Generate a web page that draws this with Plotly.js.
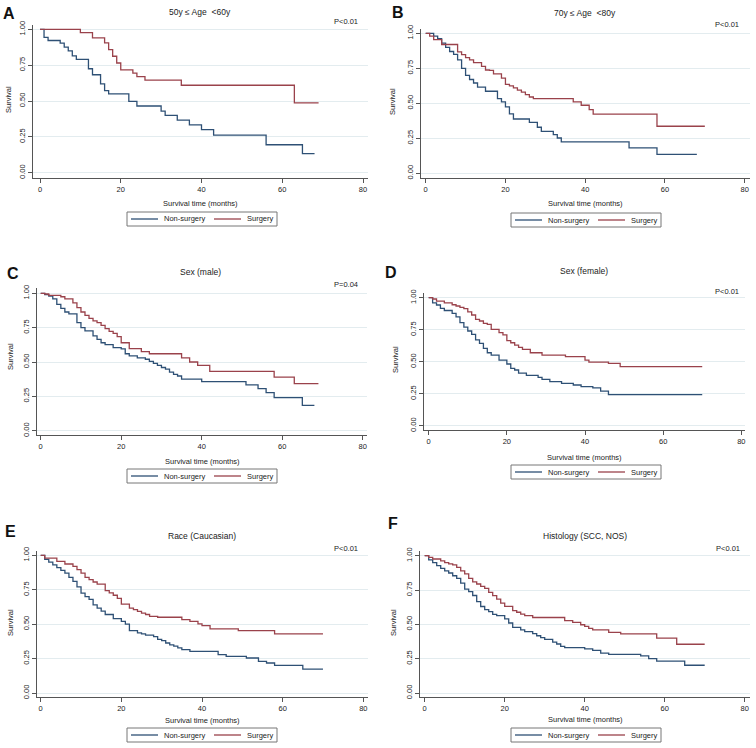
<!DOCTYPE html>
<html>
<head>
<meta charset="utf-8">
<script src="https://cdn.plot.ly/plotly-3.0.1.min.js"></script>
<style>html,body{margin:0;padding:0;background:#fff;}#chart{width:756px;height:748px;}</style>
</head>
<body>
<div id="chart"></div>
<script>
// ---------- DATA ----------
const panelLetters = ['A','B','C','D','E','F'];
const panelTitles = ['50y \u2264 Age  <60y','70y \u2264 Age  <80y','Sex (male)','Sex (female)','Race (Caucasian)','Histology (SCC, NOS)'];
const pValues = ['P<0.01','P<0.01','P=0.04','P<0.01','P<0.01','P<0.01'];
const seriesNames = ['Non-surgery','Surgery'];
const xTickVals = [0,20,40,60,80];
const yTickVals = [0,0.25,0.5,0.75,1];
const yTickText = ['0.00','0.25','0.50','0.75','1.00'];
const xTitle = 'Survival time (months)';
const yTitle = 'Survival';

// A: 50y <= Age < 60y
const aNonT = [0,1,2,5,6,7,8,9,12,13,15,16,17,22,24,30,31,34,37,40,43,56,65,68];
const aNonS = [1,0.943,0.922,0.903,0.876,0.85,0.815,0.79,0.725,0.683,0.62,0.572,0.55,0.497,0.465,0.43,0.40,0.366,0.333,0.30,0.262,0.195,0.133,0.133];
const aSurT = [0,10,13,16,17,18,19,20,23,24,26,35,63,69];
const aSurS = [1,0.977,0.94,0.905,0.858,0.812,0.765,0.717,0.695,0.67,0.645,0.61,0.487,0.487];

// B: 70y <= Age < 80y
const bNonT = [0,2,3,4,5,6,7,8,9,10,11,12,13,15,18,19,20,21,22,26,28,29,32,33,34,51,58,68];
const bNonS = [1,0.98,0.962,0.93,0.9,0.87,0.85,0.81,0.75,0.70,0.67,0.645,0.615,0.586,0.533,0.51,0.474,0.424,0.388,0.364,0.329,0.30,0.276,0.252,0.224,0.181,0.135,0.135];
const bSurT = [0,1,2,4,8,9,10,11,12,14,15,16,17,19,20,21,22,23,24,25,26,27,37,39,41,42,58,70];
const bSurS = [1,0.98,0.955,0.92,0.868,0.848,0.826,0.81,0.79,0.764,0.738,0.735,0.71,0.68,0.635,0.625,0.61,0.594,0.58,0.562,0.545,0.533,0.51,0.486,0.455,0.422,0.336,0.336];

// C: Sex (male)
const cNonT = [0,1,2,3,4,5,6,7,9,10,11,13,14,15,16,18,20,21,22,24,26,27,28,29,30,31,32,33,34,35,40,51,54,56,58,65,68];
const cNonS = [1,0.99,0.98,0.96,0.92,0.89,0.864,0.85,0.786,0.75,0.726,0.69,0.665,0.64,0.626,0.604,0.595,0.56,0.544,0.53,0.52,0.505,0.49,0.476,0.46,0.448,0.427,0.41,0.398,0.376,0.357,0.333,0.306,0.277,0.24,0.184,0.184];
const cSurT = [0,1,2,5,6,8,9,10,11,12,13,14,15,16,17,18,19,20,22,25,27,35,37,39,42,58,63,69];
const cSurS = [1,0.995,0.985,0.975,0.96,0.93,0.896,0.864,0.84,0.818,0.80,0.786,0.767,0.743,0.723,0.709,0.684,0.64,0.597,0.575,0.56,0.53,0.50,0.476,0.432,0.39,0.342,0.342];

// D: Sex (female)
const dNonT = [0,1,2,3,4,6,7,8,9,10,11,12,13,14,15,16,18,20,21,22,23,25,28,29,31,34,37,39,42,44,46,70];
const dNonS = [1,0.96,0.943,0.917,0.9,0.878,0.85,0.805,0.77,0.74,0.713,0.67,0.643,0.604,0.57,0.552,0.513,0.482,0.448,0.435,0.41,0.393,0.378,0.362,0.344,0.33,0.318,0.305,0.295,0.27,0.243,0.243];
const dSurT = [0,1,2,4,6,7,8,9,10,11,12,13,14,15,16,18,19,20,21,22,23,24,26,29,35,40,41,46,49,70];
const dSurS = [1,0.99,0.974,0.96,0.945,0.935,0.925,0.915,0.89,0.865,0.83,0.818,0.80,0.792,0.753,0.727,0.71,0.664,0.648,0.63,0.612,0.596,0.57,0.552,0.54,0.513,0.497,0.487,0.462,0.462];

// E: Race (Caucasian)
const eNonT = [0,1,2,3,4,5,6,7,8,9,10,11,12,13,14,15,16,18,20,21,22,24,25,26,28,29,30,31,32,33,34,35,37,44,46,51,54,56,58,65,70];
const eNonS = [1,0.97,0.95,0.93,0.91,0.89,0.87,0.84,0.81,0.77,0.726,0.70,0.68,0.64,0.617,0.594,0.57,0.54,0.52,0.50,0.453,0.436,0.43,0.42,0.41,0.39,0.38,0.363,0.35,0.34,0.327,0.315,0.303,0.278,0.266,0.254,0.23,0.218,0.20,0.174,0.174];
const eSurT = [0,1,4,6,8,9,10,11,12,13,14,16,17,18,19,20,22,23,24,25,26,27,29,35,37,39,40,42,49,58,70];
const eSurS = [1,0.98,0.956,0.937,0.92,0.896,0.87,0.84,0.823,0.806,0.79,0.743,0.727,0.71,0.687,0.646,0.617,0.605,0.593,0.58,0.57,0.557,0.55,0.533,0.52,0.502,0.49,0.465,0.453,0.429,0.429];

// F: Histology (SCC, NOS)
const fNonT = [0,1,2,3,4,5,6,7,8,9,10,11,12,13,14,15,16,17,18,20,21,22,24,25,27,28,29,30,32,33,34,35,40,42,44,46,54,56,58,65,70];
const fNonS = [1,0.97,0.95,0.927,0.908,0.89,0.874,0.854,0.835,0.80,0.757,0.738,0.71,0.665,0.63,0.607,0.592,0.573,0.563,0.54,0.51,0.478,0.46,0.447,0.432,0.417,0.403,0.39,0.37,0.357,0.34,0.33,0.322,0.31,0.29,0.282,0.27,0.25,0.232,0.202,0.202];
const fSurT = [0,1,2,4,5,6,7,8,9,10,11,12,13,14,15,16,17,18,19,20,22,23,24,25,27,35,37,39,40,41,42,46,49,58,63,70];
const fSurS = [1,0.988,0.976,0.963,0.95,0.94,0.933,0.915,0.89,0.867,0.835,0.81,0.794,0.777,0.762,0.733,0.709,0.684,0.655,0.631,0.60,0.588,0.575,0.563,0.55,0.527,0.515,0.497,0.485,0.47,0.46,0.442,0.43,0.40,0.355,0.355];

const nonTimes = [aNonT,bNonT,cNonT,dNonT,eNonT,fNonT];
const nonSurv  = [aNonS,bNonS,cNonS,dNonS,eNonS,fNonS];
const surTimes = [aSurT,bSurT,cSurT,dSurT,eSurT,fSurT];
const surSurv  = [aSurS,bSurS,cSurS,dSurS,eSurS,fSurS];

// ---------- LAYOUT GEOMETRY (pixels) ----------
const W = 756, H = 748;
const geo = [
  {L:33,  R:368,   x0:40,    x80:363,   T:25,    B:178,   y1:29.3,  y0:172.7, let:[9,14],   tit:[200,12],  p:[360,21],  xt:204, yt:[9,100],  lg:[127,212]},
  {L:421, R:749.7, x0:425.7, x80:744.7, T:29,    B:178,   y1:33.3,  y0:173.3, let:[398,13], tit:[585,13],  p:[741,24],  xt:204, yt:[393,102], lg:[511,213]},
  {L:37,  R:367,   x0:40.7,  x80:362.7, T:288,   B:435,   y1:293.3, y0:430.7, let:[13,273], tit:[200,272], p:[360,284], xt:461, yt:[10,357], lg:[127,469]},
  {L:423.7,R:744.7,x0:428.7, x80:741.3, T:292.7, B:430,   y1:297.7, y0:425.7, let:[391,272],tit:[584,271], p:[741,291], xt:457, yt:[396,360], lg:[511,465]},
  {L:36.7,R:367.7, x0:40.7,  x80:363.3, T:550.7, B:697,   y1:555.3, y0:693,   let:[10,531], tit:[202,536], p:[360,548], xt:720, yt:[10,623], lg:[127,728]},
  {L:420.3,R:749.7,x0:424.7, x80:744.7, T:551,   B:697.3, y1:555.7, y0:693,   let:[393,523],tit:[585,536], p:[742,548], xt:719, yt:[393,623], lg:[511,728]}
];
const colNon = '#2e5075', colSur = '#9a424b';
const FONT = '"Liberation Sans", Arial, sans-serif';
const px = v => v / W, py = v => 1 - v / H;

const traces = [];
const layout = {
  width: W, height: H,
  margin: {l:0, r:0, t:0, b:0},
  paper_bgcolor: '#fff', plot_bgcolor: '#fff',
  font: {family: FONT, color: '#222', size: 8},
  showlegend: false,
  annotations: [],
  shapes: []
};

geo.forEach((g, i) => {
  const n = i + 1;
  const xa = n === 1 ? 'x' : 'x' + n;
  const ya = n === 1 ? 'y' : 'y' + n;
  const k = (g.x80 - g.x0) / 80;
  const m = g.y0 - g.y1;
  traces.push({type:'scatter', mode:'lines', name:seriesNames[0], x:nonTimes[i], y:nonSurv[i],
    xaxis:xa, yaxis:ya, line:{shape:'hv', color:colNon, width:1.3}, hoverinfo:'skip'});
  traces.push({type:'scatter', mode:'lines', name:seriesNames[1], x:surTimes[i], y:surSurv[i],
    xaxis:xa, yaxis:ya, line:{shape:'hv', color:colSur, width:1.3}, hoverinfo:'skip'});

  layout['xaxis' + (n === 1 ? '' : n)] = {
    domain:[px(g.L), px(g.R)], anchor: ya,
    range:[(g.L - g.x0) / k, (g.R - g.x0) / k],
    tickvals:xTickVals, ticks:'outside', ticklen:4, tickwidth:1, tickcolor:'#555',
    showline:true, linecolor:'#555', linewidth:1, showgrid:false, zeroline:false,
    tickfont:{size:7.5, color:'#222'}, fixedrange:true
  };
  layout['yaxis' + (n === 1 ? '' : n)] = {
    domain:[py(g.B), py(g.T)], anchor: xa,
    range:[-(g.B - g.y0) / m, 1 + (g.y1 - g.T) / m],
    tickvals:yTickVals, ticktext:yTickText, tickangle:-90,
    ticks:'outside', ticklen:4, tickwidth:1, tickcolor:'#555',
    showline:true, linecolor:'#555', linewidth:1,
    showgrid:true, gridcolor:'#e3ecef', gridwidth:1, zeroline:false,
    tickfont:{size:7.5, color:'#222'}, fixedrange:true
  };

  // legend (box, sample lines, labels)
  const lx = g.lg[0], ly = g.lg[1], lw = 150, lh = 14, cy = ly + lh / 2;
  const S = layout.shapes;
  S.push({type:'rect', xref:'paper', yref:'paper', x0:px(lx), x1:px(lx + lw), y0:py(ly + lh), y1:py(ly),
    line:{color:'#777', width:1}, fillcolor:'#fff'});
  S.push({type:'line', xref:'paper', yref:'paper', x0:px(lx + 4), x1:px(lx + 31), y0:py(cy), y1:py(cy),
    line:{color:colNon, width:1.3}});
  S.push({type:'line', xref:'paper', yref:'paper', x0:px(lx + 87), x1:px(lx + 114), y0:py(cy), y1:py(cy),
    line:{color:colSur, width:1.3}});

  const A = layout.annotations;
  A.push({xref:'paper', yref:'paper', x:px(lx + 35), y:py(cy), text:seriesNames[0],
    showarrow:false, xanchor:'left', yanchor:'middle', font:{size:7.5, color:'#222'}});
  A.push({xref:'paper', yref:'paper', x:px(lx + 118), y:py(cy), text:seriesNames[1],
    showarrow:false, xanchor:'left', yanchor:'middle', font:{size:7.5, color:'#222'}});
  A.push({xref:'paper', yref:'paper', x:px(g.let[0]), y:py(g.let[1]), text:'<b>' + panelLetters[i] + '</b>',
    showarrow:false, xanchor:'center', yanchor:'middle', font:{size:16, color:'#111', family:FONT}});
  A.push({xref:'paper', yref:'paper', x:px(g.tit[0]), y:py(g.tit[1]), text:panelTitles[i],
    showarrow:false, xanchor:'center', yanchor:'middle', font:{size:8.5, color:'#222'}});
  A.push({xref:'paper', yref:'paper', x:px(g.p[0]), y:py(g.p[1]), text:pValues[i],
    showarrow:false, xanchor:'right', yanchor:'middle', font:{size:7.5, color:'#222'}});
  A.push({xref:'paper', yref:'paper', x:px((g.L + g.R) / 2), y:py(g.xt), text:xTitle,
    showarrow:false, xanchor:'center', yanchor:'middle', font:{size:7.5, color:'#222'}});
  A.push({xref:'paper', yref:'paper', x:px(g.yt[0]), y:py(g.yt[1]), text:yTitle, textangle:-90,
    showarrow:false, xanchor:'center', yanchor:'middle', font:{size:7.5, color:'#222'}});
});

Plotly.newPlot('chart', traces, layout, {staticPlot:true, displayModeBar:false});
</script>
</body>
</html>
